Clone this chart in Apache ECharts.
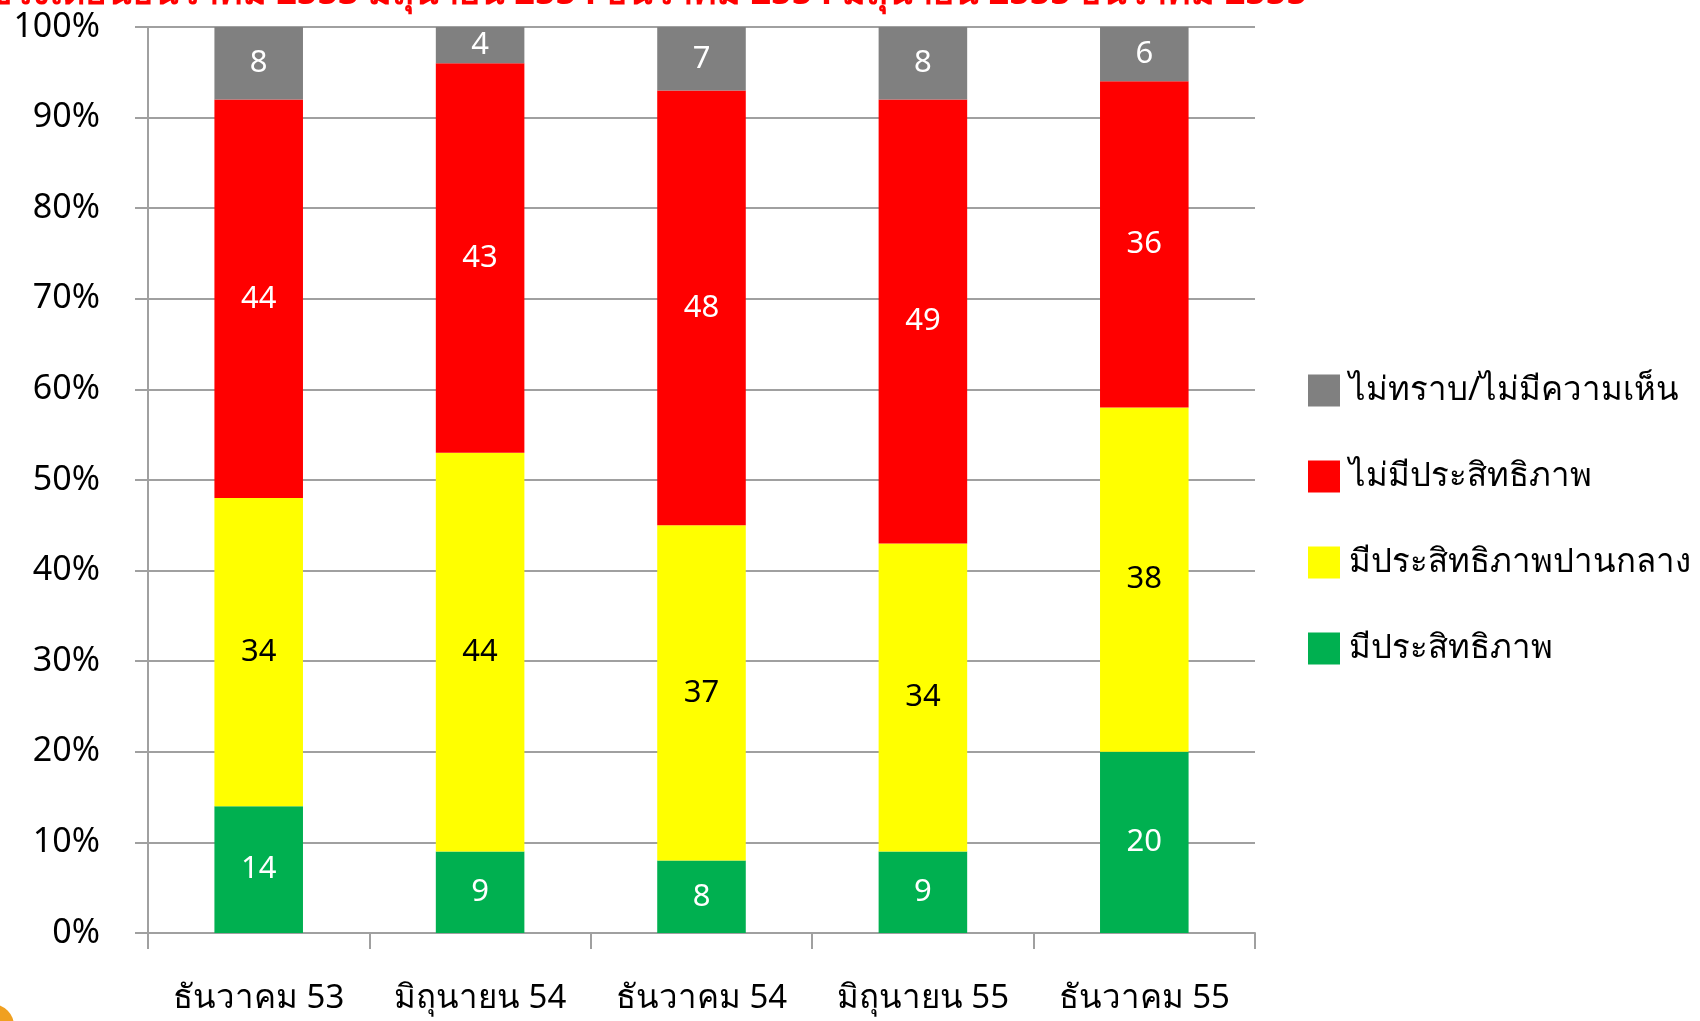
<!DOCTYPE html>
<html>
<head>
<meta charset="utf-8">
<script src="https://cdn.jsdelivr.net/npm/echarts@6/dist/echarts.min.js"></script>
<style>
  html, body { margin: 0; padding: 0; background: #fff; }
  #chart { width: 1700px; height: 1021px; }
</style>
</head>
<body>
<div id="chart"></div>
<script>
const categories = ['ธันวาคม 53', 'มิถุนายน 54', 'ธันวาคม 54', 'มิถุนายน 55', 'ธันวาคม 55']
const effective = [14, 9, 8, 9, 20]
const moderate = [34, 44, 37, 34, 38]
const notEffective = [44, 43, 48, 49, 36]
const noOpinion = [8, 4, 7, 8, 6]
const seriesNames = ['มีประสิทธิภาพ', 'มีประสิทธิภาพปานกลาง', 'ไม่มีประสิทธิภาพ', 'ไม่ทราบ/ไม่มีความเห็น']
const titleText = 'เปรียบเทียบช่วงเดือนธันวาคม 2553 มิถุนายน 2554 ธันวาคม 2554 มิถุนายน 2555 ธันวาคม 2555'

const font = 'Tahoma, "Noto Sans", sans-serif'
const chart = echarts.init(document.getElementById('chart'))

const makeSeries = (name, data, color, labelColor) => ({
  name: name,
  type: 'bar',
  stack: 'total',
  barWidth: '40%',
  data: data,
  itemStyle: { color: color },
  label: { show: true, position: 'inside', color: labelColor, fontSize: 31, fontFamily: font }
})

const option = {
  backgroundColor: '#fff',
  animation: false,
  title: {
    text: titleText,
    right: 388,
    top: -29,
    textStyle: { color: '#ff0000', fontSize: 36, fontWeight: 'bold', fontFamily: font }
  },
  legend: {
    orient: 'vertical',
    left: 1303,
    top: 369,
    itemWidth: 32,
    itemHeight: 32,
    itemGap: 53,
    icon: 'rect',
    data: [seriesNames[3], seriesNames[2], seriesNames[1], seriesNames[0]],
    textStyle: { fontSize: 33, color: '#000', fontFamily: font, padding: [0, 0, 0, 4] }
  },
  grid: { left: 148, right: 445, top: 27, bottom: 88 },
  xAxis: {
    type: 'category',
    data: categories,
    axisLine: { lineStyle: { color: '#a0a0a0', width: 2 } },
    axisTick: { show: true, interval: 0, length: 16, lineStyle: { color: '#a0a0a0', width: 2 } },
    axisLabel: { interval: 0, color: '#000', fontSize: 33, fontFamily: font, margin: 49 }
  },
  yAxis: {
    type: 'value',
    min: 0,
    max: 100,
    interval: 10,
    axisLine: { show: true, lineStyle: { color: '#a0a0a0', width: 2 } },
    axisTick: { show: true, length: 13, lineStyle: { color: '#a0a0a0', width: 2 } },
    splitLine: { lineStyle: { color: '#a0a0a0', width: 2 } },
    axisLabel: { formatter: '{value}%', color: '#000', fontSize: 34, fontFamily: font, margin: 48 }
  },
  graphic: [
    { type: 'circle', left: -30, top: 1004, shape: { r: 22 }, style: { fill: '#f0a020' } }
  ],
  series: [
    makeSeries(seriesNames[0], effective, '#00b050', '#fff'),
    makeSeries(seriesNames[1], moderate, '#ffff00', '#000'),
    makeSeries(seriesNames[2], notEffective, '#ff0000', '#fff'),
    makeSeries(seriesNames[3], noOpinion, '#808080', '#fff')
  ]
}

chart.setOption(option)
</script>
</body>
</html>
